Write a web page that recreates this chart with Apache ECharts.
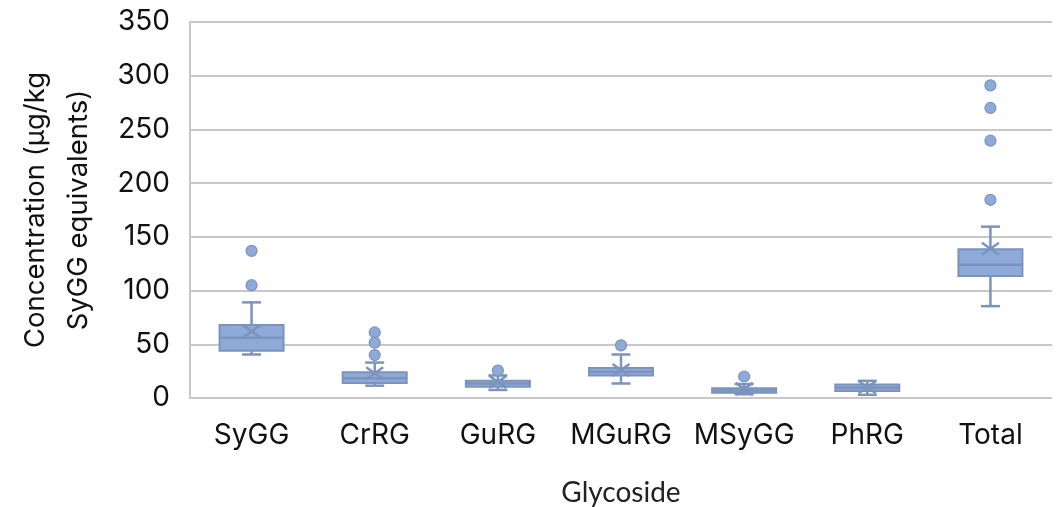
<!DOCTYPE html>
<html>
<head>
<meta charset="utf-8">
<script src="https://cdn.jsdelivr.net/npm/echarts@6/dist/echarts.min.js"></script>
<style>html,body{margin:0;padding:0;background:#fff}#c{width:1058px;height:507px}</style>
</head>
<body>
<div id="c"></div>
<script>
var categories = ['SyGG', 'CrRG', 'GuRG', 'MGuRG', 'MSyGG', 'PhRG', 'Total'];
// [whiskerLow, Q1, median, Q3, whiskerHigh]
var boxStats = [
  [40.5, 44, 56, 68, 89],
  [11.5, 14, 18.5, 24, 33],
  [7.5, 10.5, 13.5, 16, 21],
  [13.5, 21, 24.5, 28, 40.5],
  [3.5, 5, 7, 9, 13],
  [3, 6.5, 9.5, 12.5, 16],
  [85.5, 113.5, 124, 138.5, 159.5]
];
var means = [62, 23, 15, 26, 8.5, 10, 139];
var outliers = [
  [0, 137], [0, 105],
  [1, 61], [1, 51.5], [1, 40],
  [2, 25.5],
  [3, 49],
  [4, 20],
  [6, 291], [6, 270], [6, 239.5], [6, 184.5]
];
var yTicks = { min: 0, max: 350, interval: 50 };

var fillC = '#8eaad8';
var lineC = '#7b93bd';

var boxData = boxStats.map(function (s, i) { return [i].concat(s).concat([means[i]]); });

var chart = echarts.init(document.getElementById('c'));
chart.setOption({
  animation: false,
  grid: { left: 190, right: 6, top: 22, bottom: 109, containLabel: false, outerBoundsMode: 'none' },
  xAxis: {
    type: 'category',
    data: categories,
    name: 'Glycoside',
    nameLocation: 'middle',
    nameGap: 81,
    nameTextStyle: { fontFamily: 'Lato', fontSize: 28, color: '#222' },
    axisLine: { show: false },
    axisTick: { show: false },
    axisLabel: { fontFamily: 'Inter', fontSize: 28, color: '#111', margin: 24, interval: 0 },
    splitLine: { show: false }
  },
  yAxis: {
    type: 'value',
    min: yTicks.min, max: yTicks.max, interval: yTicks.interval,
    name: 'Concentration (µg/kg\nSyGG equivalents)',
    nameLocation: 'middle',
    nameGap: 90,
    nameTextStyle: { fontFamily: 'Inter', fontSize: 27.5, color: '#111', lineHeight: 43 },
    axisLine: { show: true, lineStyle: { color: '#c8c8c8', width: 2 } },
    axisTick: { show: false },
    axisLabel: { fontFamily: 'Inter', fontSize: 28, color: '#111', margin: 20 },
    splitLine: { show: true, lineStyle: { color: '#c8c8c8', width: 2 } }
  },
  series: [
    {
      type: 'custom',
      data: boxData,
      encode: { x: 0, y: [1, 2, 3, 4, 5] },
      renderItem: function (params, api) {
        var i = api.value(0);
        var lo = api.coord([i, api.value(1)]);
        var q1 = api.coord([i, api.value(2)]);
        var md = api.coord([i, api.value(3)]);
        var q3 = api.coord([i, api.value(4)]);
        var hi = api.coord([i, api.value(5)]);
        var mn = api.coord([i, api.value(6)]);
        var x = lo[0];
        var bw = 64, cw = 19, xw = 8.5, xh = 6;
        var ls = { stroke: lineC, lineWidth: 2.5, fill: null };
        return {
          type: 'group',
          children: [
            { type: 'line', shape: { x1: x, y1: hi[1], x2: x, y2: q3[1] }, style: ls },
            { type: 'line', shape: { x1: x, y1: q1[1], x2: x, y2: lo[1] }, style: ls },
            { type: 'line', shape: { x1: x - cw / 2, y1: hi[1], x2: x + cw / 2, y2: hi[1] }, style: ls },
            { type: 'line', shape: { x1: x - cw / 2, y1: lo[1], x2: x + cw / 2, y2: lo[1] }, style: ls },
            { type: 'rect', shape: { x: x - bw / 2, y: q3[1], width: bw, height: q1[1] - q3[1] },
              style: { fill: fillC, stroke: lineC, lineWidth: 2 } },
            { type: 'line', shape: { x1: x - bw / 2, y1: md[1], x2: x + bw / 2, y2: md[1] }, style: ls },
            { type: 'line', shape: { x1: x - xw, y1: mn[1] - xh, x2: x + xw, y2: mn[1] + xh }, style: ls },
            { type: 'line', shape: { x1: x - xw, y1: mn[1] + xh, x2: x + xw, y2: mn[1] - xh }, style: ls }
          ]
        };
      },
      z: 3
    },
    {
      type: 'scatter',
      data: outliers,
      symbol: 'circle',
      symbolSize: 11,
      itemStyle: { color: fillC, borderColor: lineC, borderWidth: 1.2, opacity: 1 },
      z: 4
    }
  ]
});
</script>
</body>
</html>
